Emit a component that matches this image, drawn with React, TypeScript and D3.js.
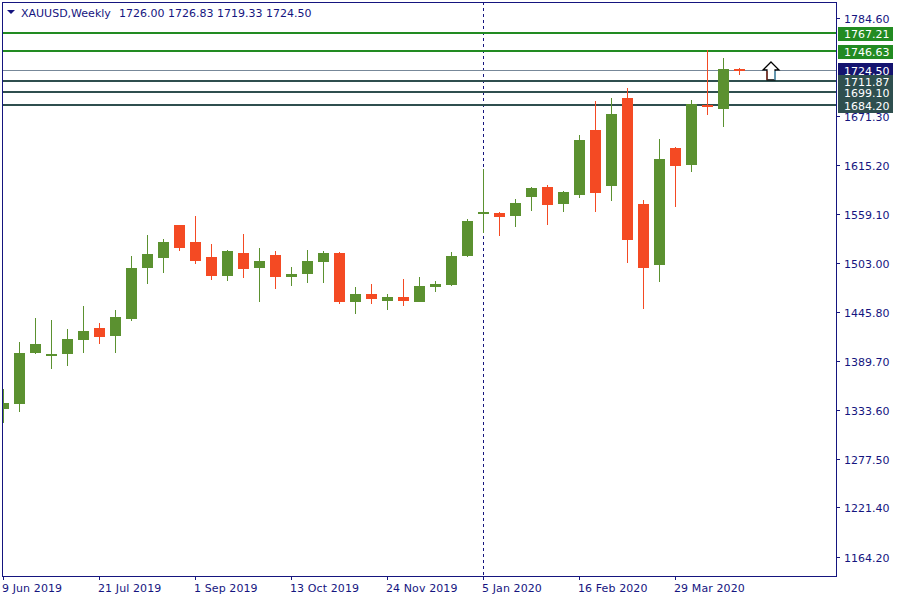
import React from "react";
import * as d3 from "d3";

const opens = [1334.56,1340.32,1399.02,1395.56,1397.87,1413.98,1427.79,1418.58,1438.15,1496.85,1508.36,1546.34,1526.78,1509.51,1487.64,1514.12,1496.85,1511.81,1486.49,1489.95,1503.76,1514.12,1457.72,1466.93,1458.87,1463.47,1457.72,1474.98,1477.28,1510.66,1559.01,1560.16,1556.70,1578.57,1590.08,1570.52,1580.87,1655.69,1591.23,1692.52,1570.52,1500.30,1634.97,1615.40,1684.47,1679.86,1726.00];
const highs = [1357.58,1411.68,1439.30,1437.00,1426.64,1453.11,1433.55,1448.51,1510.66,1534.83,1530.23,1546.34,1556.70,1524.48,1517.57,1535.99,1519.87,1516.42,1498.00,1517.57,1516.42,1515.27,1474.98,1478.44,1466.93,1484.19,1486.49,1481.89,1515.27,1553.25,1610.80,1561.31,1576.27,1590.08,1592.38,1585.48,1649.93,1689.07,1692.52,1704.03,1575.12,1645.33,1636.12,1690.22,1747.77,1738.56,1726.83];
const lows = [1318.45,1331.11,1397.87,1380.60,1384.05,1399.02,1409.38,1399.02,1435.85,1478.44,1491.10,1516.42,1501.46,1483.04,1481.89,1485.34,1457.72,1472.68,1476.13,1479.59,1479.59,1455.42,1443.91,1455.42,1448.51,1453.11,1457.72,1469.23,1476.13,1509.51,1537.14,1533.68,1544.04,1562.46,1546.34,1561.31,1577.42,1561.31,1573.97,1502.61,1449.66,1480.74,1567.06,1607.35,1672.95,1659.14,1719.33];
const closes = [1341.47,1399.02,1409.38,1397.87,1415.13,1424.34,1417.43,1440.45,1496.85,1512.97,1526.78,1519.87,1504.91,1487.64,1516.42,1495.70,1504.91,1486.49,1489.95,1504.91,1514.12,1457.72,1466.93,1461.17,1463.47,1458.87,1476.13,1478.44,1510.66,1550.95,1561.31,1555.55,1571.67,1588.93,1569.36,1584.33,1644.18,1583.18,1674.11,1529.08,1496.85,1622.31,1614.25,1685.62,1682.16,1725.90,1724.50];

const priceTicks = [1784.6,1671.3,1615.2,1559.1,1503.0,1445.8,1389.7,1333.6,1277.5,1221.4,1164.2];
const dateLabels = ["9 Jun 2019","21 Jul 2019","1 Sep 2019","13 Oct 2019","24 Nov 2019","5 Jan 2020","16 Feb 2020","29 Mar 2020"];
const dateLabelIndexes = [0,6,12,18,24,30,36,42];
const levelLines = [1767.21,1746.63,1711.87,1699.10,1684.20];
const levelColors = ["#228b22","#228b22","#2f4f4f","#2f4f4f","#2f4f4f"];
const lastPrice = 1724.5;
const ohlcTitle = "1726.00 1726.83 1719.33 1724.50";
const selectedIndex = 30;
const arrowIndex = 48;
const arrowPrice = 1734;

const NAVY = "#15157f";
const UP = "#5b9130";
const DOWN = "#f44a23";
const FONT = "'DejaVu Sans', sans-serif";

export default function App() {
  const y = d3.scaleLinear().domain([1164.2, 1784.6]).range([557, 18]);
  const x = d3.scaleLinear().domain([0, 46]).range([3, 739]);
  const left = 2, right = 836, top = 2, bottom = 576;
  const ax = x(arrowIndex);
  const ay = y(arrowPrice);
  const arrow = d3.path();
  arrow.moveTo(ax, ay);
  arrow.lineTo(ax + 8, ay + 8);
  arrow.lineTo(ax + 4, ay + 8);
  arrow.lineTo(ax + 4, ay + 18);
  arrow.lineTo(ax - 4, ay + 18);
  arrow.lineTo(ax - 4, ay + 8);
  arrow.lineTo(ax - 8, ay + 8);
  arrow.closePath();

  return (
    <svg width={900} height={600} style={{ position: "absolute", left: 0, top: 0, display: "block", background: "#fff" }} fontFamily={FONT} fontSize={11}>
      <defs>
        <clipPath id="plot"><rect x={left + 1} y={top + 1} width={right - left - 1} height={bottom - top - 1} /></clipPath>
      </defs>

      <g clipPath="url(#plot)" shapeRendering="crispEdges">
        <line x1={x(selectedIndex) + 0.5} x2={x(selectedIndex) + 0.5} y1={top} y2={bottom} stroke={NAVY} strokeDasharray="3,3" />
        <rect x={left} y={Math.floor(y(lastPrice))} width={right - left} height={1} fill="#778899" />
        {levelLines.map((v, i) => (
          <rect key={v} x={left} y={Math.round(y(v)) - 1} width={right - left} height={2} fill={levelColors[i]} />
        ))}
        {opens.map((o, i) => {
          const c = closes[i];
          const col = c >= o ? UP : DOWN;
          const t = Math.round(y(Math.max(o, c)));
          const b = Math.round(y(Math.min(o, c)));
          const hy = Math.round(y(highs[i]));
          const ly = Math.round(y(lows[i]));
          return (
            <g key={i} fill={col}>
              <rect x={x(i)} y={hy} width={1} height={ly - hy} />
              <rect x={x(i) - 5} y={t} width={11} height={Math.max(2, b - t)} />
            </g>
          );
        })}
      </g>

      <path d={arrow.toString()} fill="#fff" stroke="#000" strokeWidth={1.2} />
      <line x1={ax - 4} x2={ax - 4} y1={ay + 9} y2={ay + 18} stroke="#8b2a1c" strokeWidth={1.2} />
      <line x1={ax + 4} x2={ax + 4} y1={ay + 9} y2={ay + 18} stroke="#63b8e0" strokeWidth={1.2} />

      <path d="M7 10 L15 10 L11 14 Z" fill={NAVY} />
      <text x={21} y={17} fill={NAVY}>XAUUSD,Weekly</text>
      <text x={119} y={17} fill={NAVY}>{ohlcTitle}</text>

      <g shapeRendering="crispEdges" stroke={NAVY} fill="none">
        <rect x={left + 0.5} y={top + 0.5} width={right - left} height={bottom - top} />
        {priceTicks.map((p) => (
          <line key={p} x1={right + 1} x2={right + 4} y1={Math.round(y(p)) + 0.5} y2={Math.round(y(p)) + 0.5} />
        ))}
        {dateLabelIndexes.map((i) => (
          <line key={i} x1={x(i) + 0.5} x2={x(i) + 0.5} y1={bottom + 1} y2={bottom + 4} />
        ))}
      </g>

      {priceTicks.map((p) => (
        <text key={p} x={844} y={y(p) + 5} fill={NAVY}>{p.toFixed(2)}</text>
      ))}
      {dateLabels.map((d, i) => (
        <text key={d} x={x(dateLabelIndexes[i]) - 1} y={592} fill={NAVY} letterSpacing={0.1}>{d}</text>
      ))}

      <rect x={838} y={Math.round(y(lastPrice)) - 7} width={55} height={15} fill="#14146f" shapeRendering="crispEdges" />
      {levelLines.map((v, i) => (
        <rect key={v} x={838} y={Math.round(y(v)) - 6} width={55} height={14} fill={levelColors[i]} shapeRendering="crispEdges" />
      ))}
      <text x={844} y={y(lastPrice) + 5} fill="#fff">{lastPrice.toFixed(2)}</text>
      {levelLines.map((v) => (
        <text key={v} x={844} y={y(v) + 5} fill="#fff">{v.toFixed(2)}</text>
      ))}
    </svg>
  );
}
